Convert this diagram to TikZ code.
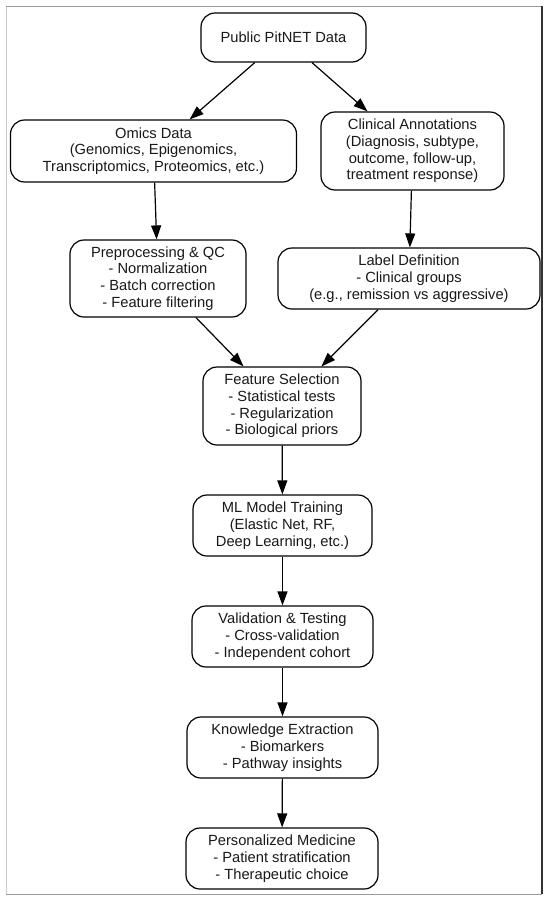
\documentclass[tikz,border=0pt]{standalone}
\usepackage{fontspec}
\setmainfont{Liberation Sans}
\usetikzlibrary{arrows.meta}
\begin{document}
\begin{tikzpicture}[x=1pt,y=-1pt,
  box/.style={draw=black, line width=1.2pt, rounded corners=14pt, align=center, inner sep=0pt,
    font=\fontsize{14.7}{16.7}\selectfont, text=black!90},
  arr/.style={draw=black, line width=1.2pt, -{Triangle[length=14pt,width=10pt]}}]
\useasboundingbox (0,0) rectangle (550,900);
\fill[white] (0,0) rectangle (550,900);
\draw[black!20, line width=1pt] (6,894) -- (6,6);
\draw[black!40, line width=1pt] (6,6) -- (542,6);
\draw[black!40, line width=1pt] (6,894) -- (542,894);
\draw[black!80, line width=1.5pt] (542,6) -- (542,894);

\node[box, minimum width=165pt, minimum height=49pt] (pub) at (283.5,37.5) {Public PitNET Data};
\node[box, minimum width=286pt, minimum height=62pt] (omics) at (153.5,151) {Omics Data\\(Genomics, Epigenomics,\\Transcriptomics, Proteomics, etc.)};
\node[box, minimum width=183pt, minimum height=78pt] (clin) at (412.5,151) {Clinical Annotations\\(Diagnosis, subtype,\\outcome, follow-up,\\treatment response)};
\node[box, minimum width=176pt, minimum height=77pt] (prep) at (158,278.5) {Preprocessing \& QC\\- Normalization\\- Batch correction\\- Feature filtering};
\node[box, minimum width=262pt, minimum height=61pt] (label) at (409,278.5) {Label Definition\\- Clinical groups\\(e.g., remission vs aggressive)};
\node[box, minimum width=158pt, minimum height=78pt] (fs) at (282,406) {Feature Selection\\- Statistical tests\\- Regularization\\- Biological priors};
\node[box, minimum width=179pt, minimum height=61pt] (ml) at (282.5,525.5) {ML Model Training\\(Elastic Net, RF,\\Deep Learning, etc.)};
\node[box, minimum width=181pt, minimum height=61pt] (val) at (282.5,636.5) {Validation \& Testing\\- Cross-validation\\- Independent cohort};
\node[box, minimum width=191pt, minimum height=61pt] (know) at (282.5,747.5) {Knowledge Extraction\\- Biomarkers\\- Pathway insights};
\node[box, minimum width=192pt, minimum height=61pt] (pers) at (282,858.5) {Personalized Medicine\\- Patient stratification\\- Therapeutic choice};

\draw[arr] (pub) -- (omics);
\draw[arr] (pub) -- (clin);
\draw[arr] (omics) -- (prep);
\draw[arr] (clin) -- (label);
\draw[arr] (prep) -- (fs);
\draw[arr] (label) -- (fs);
\draw[arr] (fs) -- (ml);
\draw[arr] (ml) -- (val);
\draw[arr] (val) -- (know);
\draw[arr] (know) -- (pers);
\end{tikzpicture}
\end{document}
